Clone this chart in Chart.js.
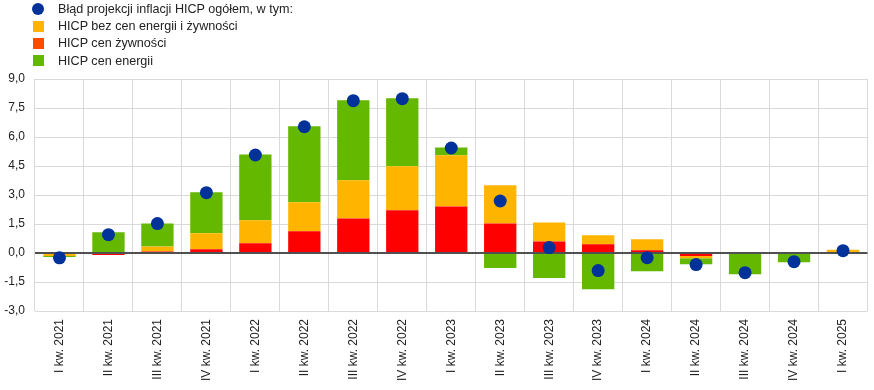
<!DOCTYPE html>
<html><head><meta charset="utf-8">
<script src="https://cdn.jsdelivr.net/npm/chart.js@4"></script>
<style>
html,body{margin:0;padding:0;background:#fff;}
#wrap{position:relative;width:874px;height:390px;}
#legend{position:absolute;left:32px;top:0;font:12.6px "Liberation Sans",Arial,sans-serif;color:#222;}
.row{height:17.4px;display:flex;align-items:center;white-space:nowrap;}
.mk{width:12px;height:12px;margin-right:14px;display:flex;align-items:center;justify-content:center;}
.dot{width:12px;height:12px;border-radius:50%;}
.sq{width:11px;height:11px;}
canvas{position:absolute;left:0;top:0;}
</style></head><body>
<div id="wrap">
<canvas id="c" width="874" height="390"></canvas>
<div id="legend"></div>
</div>
<script>
const categories = ['I kw. 2021','II kw. 2021','III kw. 2021','IV kw. 2021','I kw. 2022','II kw. 2022','III kw. 2022','IV kw. 2022','I kw. 2023','II kw. 2023','III kw. 2023','IV kw. 2023','I kw. 2024','II kw. 2024','III kw. 2024','IV kw. 2024','I kw. 2025'];
const totalError = [-0.25, 0.95, 1.52, 3.12, 5.07, 6.53, 7.88, 7.98, 5.43, 2.69, 0.28, -0.91, -0.24, -0.60, -1.02, -0.45, 0.12];
const foodHICP   = [-0.05, -0.10, 0.08, 0.19, 0.50, 1.12, 1.79, 2.21, 2.41, 1.53, 0.60, 0.45, 0.14, -0.15, 0.02, 0.00, 0.00];
const coreHICP   = [-0.10, 0.00, 0.26, 0.83, 1.19, 1.50, 1.97, 2.28, 2.64, 1.97, 0.98, 0.47, 0.57, -0.12, 0.03, 0.00, 0.17];
const energyHICP = [-0.06, 1.07, 1.19, 2.12, 3.41, 3.93, 4.14, 3.52, 0.41, -0.78, -1.29, -1.88, -0.95, -0.31, -1.10, -0.48, -0.03];
const yTicks = [-3.0, -1.5, 0.0, 1.5, 3.0, 4.5, 6.0, 7.5, 9.0];
const legendLabels = ['Błąd projekcji inflacji HICP ogółem, w tym:', 'HICP bez cen energii i żywności', 'HICP cen żywności', 'HICP cen energii'];

const C_DOT = '#003299', C_CORE = '#ffb400', C_FOOD = '#ff0000', C_FOOD_LEG = '#ff4b00', C_EN = '#65b800';

// HTML legend
const leg = document.getElementById('legend');
[[legendLabels[0], C_DOT, 'dot'], [legendLabels[1], C_CORE, 'sq'], [legendLabels[2], C_FOOD_LEG, 'sq'], [legendLabels[3], C_EN, 'sq']].forEach(([t, c, k]) => {
  const r = document.createElement('div'); r.className = 'row';
  const m = document.createElement('div'); m.className = 'mk';
  const s = document.createElement('div'); s.className = k; s.style.background = c;
  m.appendChild(s); r.appendChild(m);
  const sp = document.createElement('span'); sp.textContent = t; r.appendChild(sp);
  leg.appendChild(r);
});

const zeroLine = {
  id: 'zeroLine',
  beforeDatasetDraw(chart, args) {
    if (args.index !== 0) return;
    const y = chart.scales.y.getPixelForValue(0);
    const ctx = chart.ctx;
    ctx.save();
    ctx.strokeStyle = '#505050'; ctx.lineWidth = 2;
    ctx.beginPath(); ctx.moveTo(chart.chartArea.left, y); ctx.lineTo(chart.chartArea.right, y); ctx.stroke();
    ctx.restore();
  }
};

const font = { family: '"Liberation Sans", Arial, sans-serif', size: 12 };
new Chart(document.getElementById('c'), {
  type: 'bar',
  data: {
    labels: categories,
    datasets: [
      { type: 'line', label: legendLabels[0], data: totalError, showLine: false, stack: 'dot',
        pointRadius: 6.5, pointHoverRadius: 6.5, pointBackgroundColor: C_DOT, pointBorderWidth: 0, borderColor: C_DOT, backgroundColor: C_DOT },
      { label: legendLabels[2], data: foodHICP, backgroundColor: C_FOOD, stack: 's' },
      { label: legendLabels[1], data: coreHICP, backgroundColor: C_CORE, stack: 's' },
      { label: legendLabels[3], data: energyHICP, backgroundColor: C_EN, stack: 's' }
    ]
  },
  options: {
    responsive: false, animation: false,
    layout: { padding: { top: 79, right: 6, left: 0, bottom: 0 } },
    datasets: { bar: { categoryPercentage: 1, barPercentage: 0.66, borderWidth: 0 } },
    plugins: { legend: { display: false }, tooltip: { enabled: false } },
    scales: {
      x: {
        stacked: true,
        grid: { color: '#d9d9d9', lineWidth: 1, offset: true, drawTicks: false },
        border: { display: false },
        ticks: { font, color: '#222', minRotation: 90, maxRotation: 90, padding: 8, autoSkip: false },
        afterFit(s) { s.height = 79; }
      },
      y: {
        stacked: true, min: -3, max: 9,
        afterBuildTicks(s) { s.ticks = yTicks.map(v => ({ value: v })); },
        grid: { color: '#d9d9d9', lineWidth: 1, drawTicks: false },
        border: { display: false },
        ticks: { font, color: '#222', padding: 10, callback: v => Number(v).toFixed(1).replace('.', ',') },
        afterFit(s) { s.width = 35; }
      }
    }
  },
  plugins: [zeroLine]
});
</script>
</body></html>
